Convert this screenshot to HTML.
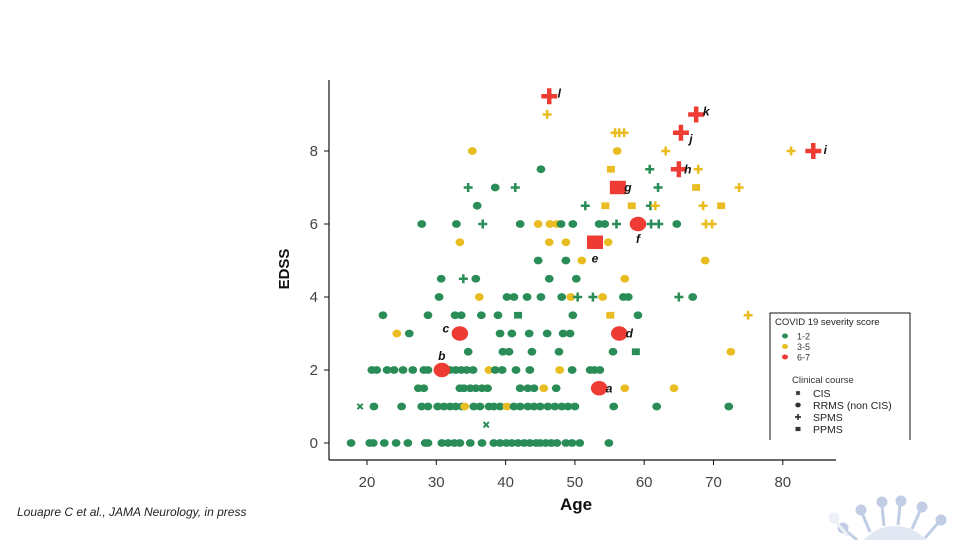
<!DOCTYPE html>
<html><head><meta charset="utf-8"><style>
html,body{margin:0;padding:0;background:#fff;width:960px;height:540px;overflow:hidden}
svg{display:block;overflow:hidden}
text{font-family:"Liberation Sans",sans-serif}
</style></head><body>
<svg id="chart" width="960" height="540" viewBox="0 0 960 540">
<g id="virus" opacity="0.55">
<path d="M863.7 540 A42 42 0 0 1 926.3 540 Z" fill="#c9d6ea"/>
<g stroke="#8ea6cf" stroke-width="3" fill="#8ea6cf">
<line x1="857" y1="540" x2="845" y2="530"/><circle cx="843" cy="528" r="4"/>
<line x1="870" y1="532" x2="862" y2="513"/><circle cx="861" cy="510" r="4"/>
<line x1="884" y1="526" x2="882" y2="506"/><circle cx="882" cy="502" r="4"/>
<line x1="898" y1="525" x2="900" y2="505"/><circle cx="901" cy="501" r="4"/>
<line x1="912" y1="529" x2="920" y2="511"/><circle cx="922" cy="507" r="4"/>
<line x1="925" y1="538" x2="938" y2="523"/><circle cx="941" cy="520" r="4"/>
</g>
<g stroke="#dfe5ef" stroke-width="3" fill="#dfe5ef">
<line x1="848" y1="536" x2="836" y2="522"/><circle cx="834" cy="518" r="4"/>
</g>
</g>
</svg>
<script>
const edssLevels=[0,0.5,1,1.5,2,2.5,3,3.5,4,4.5,5,5.5,6,6.5,7,7.5,8,8.5,9];
const rowAges=[
[17.7,20.4,20.9,22.5,24.2,25.9,28.4,28.8,30.8,31.7,32.6,33.4,34.9,36.6,38.3,39.2,40.1,40.9,41.8,42.7,43.5,44.4,45,45.8,46.6,47.4,48.7,49.6,50.7,54.9],
[37.2],
[19,21,25,27.9,28.8,30.2,31.1,32,32.8,33.7,35.4,34.1,36.3,37.6,38.3,39.2,40.2,41.2,42.1,43.2,44.1,45,46.1,47.1,48.1,49,50,55.6,61.8,72.2],
[27.4,28.2,33.4,34,34.9,35.7,36.6,37.4,42.1,43.2,44.1,45.5,47.3,57.2,64.3],
[20.7,21.4,22.9,23.9,25.2,26.6,28.2,28.8,32,32.8,33.6,34.4,35.3,37.6,38.5,39.5,41.5,43.5,47.8,49.6,52.2,52.8,53.6],
[34.6,39.6,40.5,43.8,47.7,55.5,58.8,72.5],
[24.3,26.1,39.2,40.9,43.4,46,48.3,49.3],
[22.3,28.8,32.7,33.6,36.5,38.9,41.8,49.7,55.1,59.1,75],
[30.4,36.2,40.2,41.2,43.1,45.1,48.1,49.4,50.4,52.6,54,57,57.7,65,67],
[30.7,33.9,35.7,46.3,50.2,57.2],
[44.7,48.7,51,68.8],
[33.4,46.3,48.7,54.8],
[27.9,32.9,36.7,42.1,44.7,46.4,47.4,48,49.7,53.5,54.3,56,61,62.1,64.7,68.9,69.8],
[35.9,51.5,54.4,58.2,60.9,61.6,68.5,71.1],
[34.6,38.5,41.4,62,67.5,73.7],
[45.1,55.2,60.8,67.8],
[35.2,56.1,63.1,81.2],
[55.8,56.4,57.1],
[46]
];
const rowKinds=[
"gR gR gR gR gR gR gR gR gR gR gR gR gR gR gR gR gR gR gR gR gR gR gR gR gR gR gR gR gR gR",
"gC",
"gC gR gR gR gR gR gR gR gR gR gR yR gR gR gR gR yR gR gR gR gR gR gR gR gR gR gR gR gR gR",
"gR gR gR gR gR gR gR gR gR gR gR yR gR yR yR",
"gR gR gR gR gR gR gR gR gR gR gR gR gR yR gR gR gR gR yR gR gR gR gR",
"gR gR gR gR gR gR gP yR",
"yR gR gR gR gR gR gR gR",
"gR gR gR gR gR gR gP gR yP gR yS",
"gR yR gR gR gR gR gR yR gS gS yR gR gR gS gR",
"gR gS gR gR gR yR",
"gR gR yR yR",
"yR yR yR yR",
"gR gR gS gR yR yR yR gR gR gR gR gS gS gS gR yS yS",
"gR gS yP yP gS yS yS yP",
"gS gR gS gS yP yS",
"gR yP gS yS",
"yR yR yS yS",
"yS yS yS",
"yS"
];
const redAges=[53.5,30.8,33.4,56.4,52.9,59.1,56.2,65,84.4,65.3,67.5,46.3];
const redEdss=[1.5,2,3,3,5.5,6,7,7.5,8,8.5,9,9.5];
const redCourse=["R","R","R","R","P","R","P","S","S","S","S","S"];
const redLabels=["a","b","c","d","e","f","g","h","i","j","k","l"];
const xTicks=[20,30,40,50,60,70,80];
const yTicks=[0,2,4,6,8];

const NS="http://www.w3.org/2000/svg";
const svg=document.getElementById("chart");
const X=a=>367+(a-20)*6.93;
const Y=e=>443-e*36.5;
const COL={g:"#2a8d57",y:"#e9bd22",r:"#ee3b33"};
function mk(tag,attrs,parent){const el=document.createElementNS(NS,tag);for(const k in attrs)el.setAttribute(k,attrs[k]);(parent||svg).appendChild(el);return el;}
function txt(s,attrs,parent){const t=mk("text",attrs,parent);t.textContent=s;return t;}

const axes=mk("g",{});


const ya=mk("line",{x1:329,y1:80,x2:329,y2:460,stroke:"#111","stroke-width":1.2},axes);


const xa=mk("line",{x1:329,y1:460,x2:836,y2:460,stroke:"#111","stroke-width":1.2},axes);


xTicks.forEach(v=>{
  const tk=mk("line",{x1:X(v),y1:460,x2:X(v),y2:465,stroke:"#111"},axes);
  
  
  const t=txt(String(v),{x:X(v),y:487,"text-anchor":"middle","font-size":15,fill:"#444"},axes);
  
  
});
yTicks.forEach(v=>{
  const tk=mk("line",{x1:324,y1:Y(v),x2:329,y2:Y(v),stroke:"#111"},axes);
  
  
  const t=txt(String(v),{x:318,y:Y(v)+5,"text-anchor":"end","font-size":15,fill:"#444"},axes);
  
  
});
const yt=txt("EDSS",{x:0,y:0,transform:"translate(289,269) rotate(-90)","text-anchor":"middle","font-size":15,"font-weight":"bold",fill:"#111"});


const xt=txt("Age",{x:576,y:510,"text-anchor":"middle","font-size":17,"font-weight":"bold",fill:"#111"});


const cit=txt("Louapre C et al., JAMA Neurology, in press",{x:17,y:516,"font-size":12,"font-style":"italic",fill:"#222"});



function marker(cx,cy,course,col,s,parent){
  let el;
  if(course==="R"){el=mk("ellipse",{cx:cx,cy:cy,rx:s*0.55,ry:s*0.48,fill:col},parent);}
  else if(course==="P"){el=mk("rect",{x:cx-s/2,y:cy-s*0.42,width:s,height:s*0.84,fill:col},parent);}
  else if(course==="S"){const w=s*0.28;el=mk("path",{d:`M${cx-s/2} ${cy-w/2}h${s}v${w}h${-s}z M${cx-w/2} ${cy-s/2}h${w}v${s}h${-w}z`,fill:col},parent);}
  else {el=mk("path",{d:`M${cx-s/3} ${cy-s/3}L${cx+s/3} ${cy+s/3}M${cx+s/3} ${cy-s/3}L${cx-s/3} ${cy+s/3}`,stroke:col,"stroke-width":2},parent);}
  return el;
}
const pts=mk("g",{});


edssLevels.forEach((e,i)=>{
  const kinds=rowKinds[i].split(" ");
  rowAges[i].forEach((a,j)=>{
    const k=kinds[j]||"gR";
    const m=marker(X(a),Y(e),k[1],COL[k[0]],k[1]==="S"?9:8,pts);
    
    
  });
});
const lblPos={a:[10,4],b:[0,-10],c:[-14,-1],d:[10,4],e:[0,20],f:[0,19],g:[10,4],h:[9,4],i:[12,3],j:[10,10],k:[10,1],l:[10,1]};
redAges.forEach((a,i)=>{
  const cx=X(a),cy=Y(redEdss[i]);
  const m=marker(cx,cy,redCourse[i],COL.r,redCourse[i]==="R"?15:16,pts);
  
  
  const o=lblPos[redLabels[i]]||[10,4];
  const t=txt(redLabels[i],{x:cx+o[0],y:cy+o[1],"text-anchor":"middle","font-size":12,"font-style":"italic","font-weight":"bold",fill:"#111"},pts);
  
  
});

const lg=mk("g",{});


mk("path",{d:"M770 440V313H910V440",fill:"#fff",stroke:"#111","stroke-width":1},lg);
txt("COVID 19 severity score",{x:775,y:325,"font-size":9.5,fill:"#222"},lg);
[["1-2","g"],["3-5","y"],["6-7","r"]].forEach((r,i)=>{
  const yy=336+i*10.5;
  const c=mk("ellipse",{cx:785,cy:yy,rx:3,ry:2.5,fill:COL[r[1]]},lg);
  
  
  txt(r[0],{x:797,y:yy+3.5,"font-size":9,fill:"#333"},lg);
});
txt("Clinical course",{x:792,y:383,"font-size":9.5,fill:"#333"},lg);
[["CIS","C"],["RRMS (non CIS)","R"],["SPMS","S"],["PPMS","P"]].forEach((r,i)=>{
  const yy=393+i*12;
  const m=marker(798,yy,r[1],"#333",r[1]==="S"?6:5,lg);
  
  
  txt(r[0],{x:813,y:yy+4,"font-size":10.5,fill:"#222"},lg);
});
</script>
</body></html>
